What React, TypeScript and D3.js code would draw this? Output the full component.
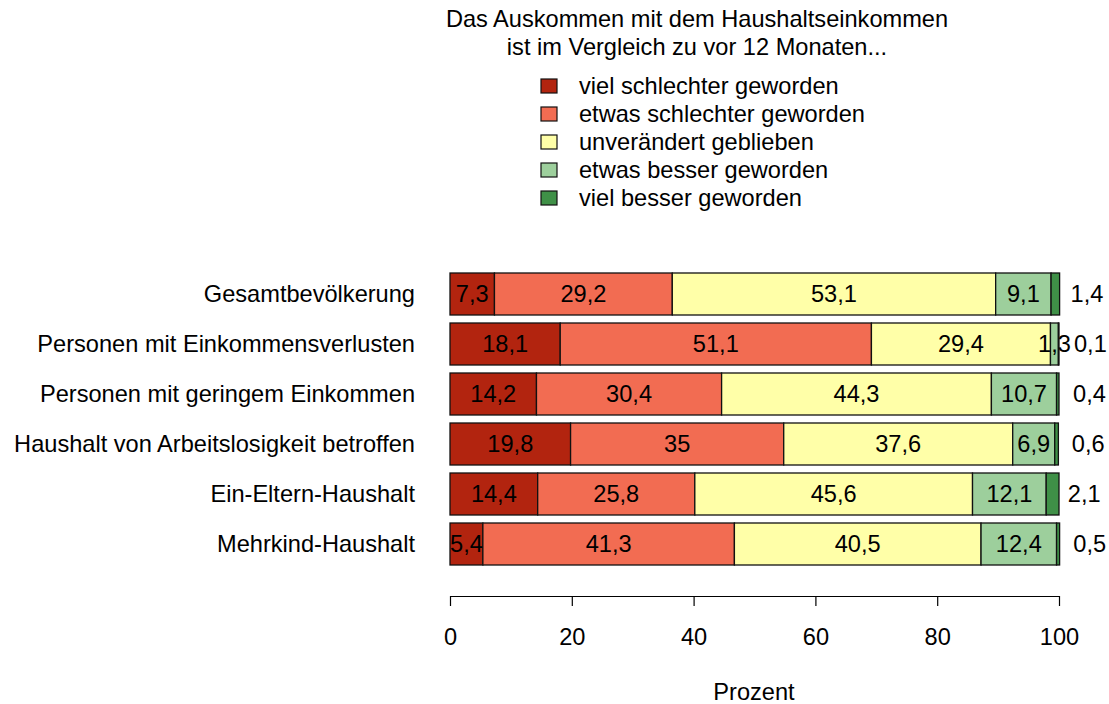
import React, { useRef, useEffect } from 'react';
import * as d3 from 'd3';

const groups = [
  'Gesamtbevölkerung',
  'Personen mit Einkommensverlusten',
  'Personen mit geringem Einkommen',
  'Haushalt von Arbeitslosigkeit betroffen',
  'Ein-Eltern-Haushalt',
  'Mehrkind-Haushalt',
];

const answers = [
  'viel schlechter geworden',
  'etwas schlechter geworden',
  'unverändert geblieben',
  'etwas besser geworden',
  'viel besser geworden',
];

const colors = ['#b2240f', '#f26c52', '#ffffa8', '#9dcf9c', '#3f9047'];

// percent per group, in order of answers
const viel_schlechter = [7.3, 18.1, 14.2, 19.8, 14.4, 5.4];
const etwas_schlechter = [29.2, 51.1, 30.4, 35, 25.8, 41.3];
const unveraendert = [53.1, 29.4, 44.3, 37.6, 45.6, 40.5];
const etwas_besser = [9.1, 1.3, 10.7, 6.9, 12.1, 12.4];
const viel_besser = [1.4, 0.1, 0.4, 0.6, 2.1, 0.5];

const series = [viel_schlechter, etwas_schlechter, unveraendert, etwas_besser, viel_besser];

const xTicks = [0, 20, 40, 60, 80, 100];

const W = 1109;
const H = 704;
const FONT = '"Liberation Sans", Arial, sans-serif';
const FS = 23.6;

const fmt = (v: number) => String(v).replace('.', ',');

const App = () => {
  const axisRef = useRef<SVGGElement>(null);

  const x = d3.scaleLinear().domain([0, 100]).range([450, 1059]);
  const y = d3.scaleBand<string>()
    .domain(groups)
    .range([269, 569])
    .paddingInner(0.16)
    .paddingOuter(0.08);

  const axisY = 596;

  useEffect(() => {
    const g = d3.select(axisRef.current);
    g.selectAll('*').remove();
    g.call(d3.axisBottom(x).tickValues(xTicks).tickSize(10).tickPadding(22).tickSizeOuter(0) as any);
    g.select('.domain').attr('stroke', '#000').attr('stroke-width', 1.2);
    g.selectAll('.tick line').attr('stroke', '#000').attr('stroke-width', 1.2);
    g.selectAll('.tick text')
      .attr('font-size', FS)
      .attr('font-family', FONT)
      .attr('fill', '#000');
  }, []);

  const rows = groups.map((grp, i) => {
    let cum = 0;
    const segs = series.map((s, k) => {
      const v = s[i];
      const seg = { k, v, x0: cum, x1: cum + v };
      cum += v;
      return seg;
    });
    return { grp, segs };
  });

  const legendRows = [86, 114, 142, 170, 198];

  return (
    <svg width={W} height={H} style={{ position: 'absolute', left: 0, top: 0, background: '#fff' }}
      fontFamily={FONT}>
      <text x={697} y={19} textAnchor="middle" dominantBaseline="central" fontSize={FS}>
        Das Auskommen mit dem Haushaltseinkommen
      </text>
      <text x={697} y={47} textAnchor="middle" dominantBaseline="central" fontSize={FS}>
        ist im Vergleich zu vor 12 Monaten...
      </text>
      {answers.map((a, k) => (
        <g key={a}>
          <rect x={541} y={legendRows[k] - 7} width={16} height={14} fill={colors[k]}
            stroke="#111" strokeWidth={1.2} />
          <text x={579} y={legendRows[k]} dominantBaseline="central" fontSize={FS}>{a}</text>
        </g>
      ))}

      {rows.map(({ grp, segs }) => {
        const y0 = y(grp)!;
        const bh = y.bandwidth();
        const cy = y0 + bh / 2;
        const last = segs[segs.length - 1];
        return (
          <g key={grp}>
            <text x={415} y={cy} textAnchor="end" dominantBaseline="central" fontSize={FS}>{grp}</text>
            {segs.map((s) => (
              <rect key={s.k} x={x(s.x0)} y={y0} width={x(s.x1) - x(s.x0)} height={bh}
                fill={colors[s.k]} stroke="#111" strokeWidth={1.3} />
            ))}
            {segs.slice(0, -1).map((s) => (
              <text key={'t' + s.k} x={x((s.x0 + s.x1) / 2)} y={cy} textAnchor="middle"
                dominantBaseline="central" fontSize={FS}>{fmt(s.v)}</text>
            ))}
            <text x={x((last.x0 + last.x1) / 2 + 5.2)} y={cy} textAnchor="middle"
              dominantBaseline="central" fontSize={FS}>{fmt(last.v)}</text>
          </g>
        );
      })}

      <g ref={axisRef} transform={`translate(0,${axisY})`} />
      <text x={754} y={692} textAnchor="middle" dominantBaseline="central" fontSize={FS}>Prozent</text>
    </svg>
  );
};

export default App;
